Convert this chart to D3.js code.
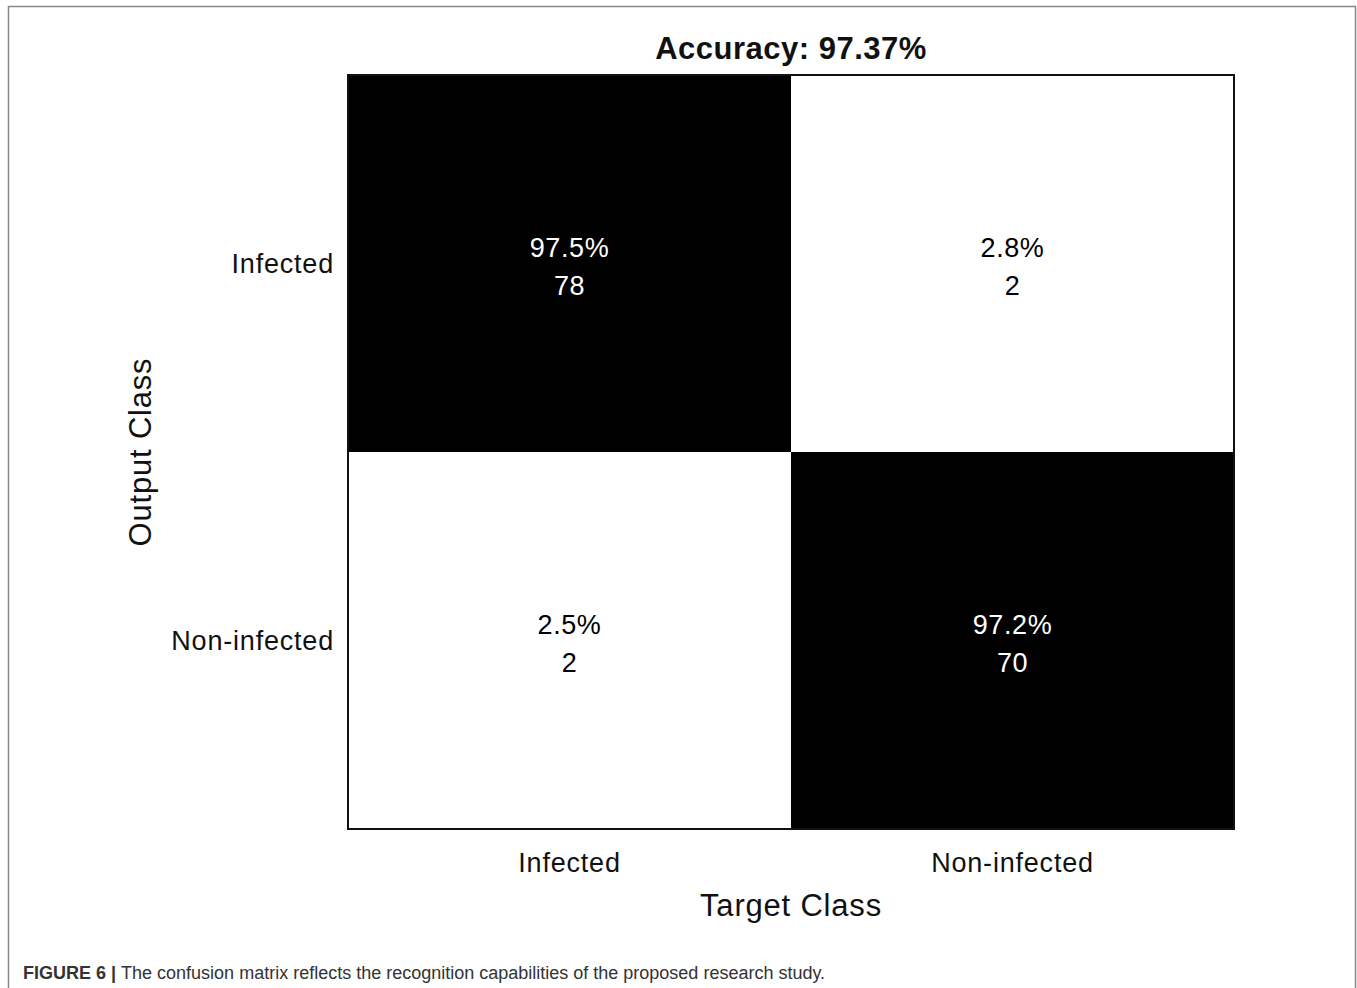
<!DOCTYPE html>
<html>
<head>
<meta charset="utf-8">
<script src="https://cdn.jsdelivr.net/npm/d3@7"></script>
<style>
  body { margin: 0; background: #fff; }
  svg { display: block; }
</style>
</head>
<body>
<div id="vis"></div>
<script>
// confusion matrix values, row = output class, column = target class
var classes = ["Infected", "Non-infected"];
var cellPercents = [[97.5, 2.8], [2.5, 97.2]];
var cellCounts = [[78, 2], [2, 70]];
var accuracyText = "Accuracy: 97.37%";

var W = 1357, H = 988;
var plot = {left: 348, top: 75, right: 1234, bottom: 829};
var font = "'Liberation Sans', Arial, sans-serif";

var svg = d3.select("#vis").append("svg")
  .attr("width", W)
  .attr("height", H);

// outer figure frame (open at the bottom)
svg.append("path")
  .attr("d", "M8.5," + H + "V6.5H1355.5V" + H)
  .attr("fill", "none")
  .attr("stroke", "#888")
  .attr("stroke-width", 1.5);

var x = d3.scaleBand()
  .domain(classes)
  .range([plot.left, plot.right]);

var y = d3.scaleBand()
  .domain(classes)
  .range([plot.top, plot.bottom]);

var cells = [];
classes.forEach(function(r, i) {
  classes.forEach(function(c, j) {
    cells.push({row: r, col: c, pct: cellPercents[i][j], n: cellCounts[i][j]});
  });
});

var fill = function(d) { return d.pct > 50 ? "#000" : "#fff"; };
var ink = function(d) { return d.pct > 50 ? "#fff" : "#000"; };

var g = svg.append("g");

g.selectAll("rect.cell")
  .data(cells)
  .enter().append("rect")
  .attr("class", "cell")
  .attr("x", function(d) { return x(d.col); })
  .attr("y", function(d) { return y(d.row); })
  .attr("width", x.bandwidth())
  .attr("height", y.bandwidth())
  .attr("fill", fill);

var labels = g.selectAll("g.lab")
  .data(cells)
  .enter().append("g")
  .attr("class", "lab")
  .attr("transform", function(d) {
    return "translate(" + (x(d.col) + x.bandwidth() / 2) + "," + (y(d.row) + y.bandwidth() / 2) + ")";
  })
  .attr("font-family", font)
  .attr("font-size", 27)
  .attr("letter-spacing", 0.6)
  .attr("text-anchor", "middle")
  .attr("fill", ink);

labels.append("text")
  .attr("y", -7)
  .text(function(d) { return d.pct.toFixed(1) + "%"; });

labels.append("text")
  .attr("y", 31)
  .text(function(d) { return d.n; });

// plot border
g.append("rect")
  .attr("x", plot.left)
  .attr("y", plot.top)
  .attr("width", plot.right - plot.left)
  .attr("height", plot.bottom - plot.top)
  .attr("fill", "none")
  .attr("stroke", "#111")
  .attr("stroke-width", 2);

// axes
var xAxis = svg.append("g")
  .attr("transform", "translate(0," + plot.bottom + ")")
  .call(d3.axisBottom(x).tickSize(0).tickPadding(43));
var yAxis = svg.append("g")
  .attr("transform", "translate(" + plot.left + ",0)")
  .call(d3.axisLeft(y).tickSize(0).tickPadding(14));

[xAxis, yAxis].forEach(function(a) {
  a.select(".domain").remove();
  a.selectAll("text")
    .attr("font-family", font)
    .attr("font-size", 27)
    .attr("letter-spacing", 0.8)
    .attr("fill", "#111");
});
xAxis.selectAll("text").attr("dy", "0");
yAxis.selectAll("text").attr("dy", "0.35em");

svg.append("text")
  .attr("x", (plot.left + plot.right) / 2)
  .attr("y", 916)
  .attr("text-anchor", "middle")
  .attr("font-family", font)
  .attr("font-size", 31)
  .attr("letter-spacing", 0.8)
  .attr("fill", "#111")
  .text("Target Class");

svg.append("text")
  .attr("transform", "translate(151," + (plot.top + plot.bottom) / 2 + ") rotate(-90)")
  .attr("text-anchor", "middle")
  .attr("font-family", font)
  .attr("font-size", 31)
  .attr("letter-spacing", 0.8)
  .attr("fill", "#111")
  .text("Output Class");

svg.append("text")
  .attr("x", (plot.left + plot.right) / 2)
  .attr("y", 59)
  .attr("text-anchor", "middle")
  .attr("font-family", font)
  .attr("font-weight", "bold")
  .attr("font-size", 31)
  .attr("letter-spacing", 0.5)
  .attr("fill", "#111")
  .text(accuracyText);

// caption
var cap = svg.append("text")
  .attr("x", 23)
  .attr("y", 979)
  .attr("font-family", font)
  .attr("font-size", 18)
  .attr("fill", "#333");
cap.append("tspan").attr("font-weight", "bold").text("FIGURE 6 | ");
cap.append("tspan").text("The confusion matrix reflects the recognition capabilities of the proposed research study.");
</script>
</body>
</html>
